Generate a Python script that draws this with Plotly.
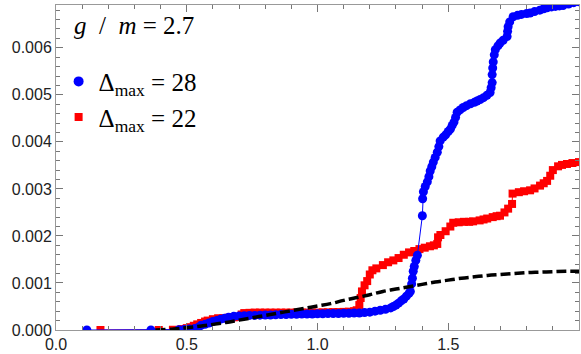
import plotly.graph_objects as go

# Delta_max = 28 (blue circles)
blue_x = [0.118, 0.363, 0.47, 0.49, 0.51, 0.53, 0.545, 0.555, 0.57, 0.585, 0.60, 0.615, 0.63, 0.645, 0.66,
          0.68, 0.70, 0.72, 0.74, 0.76, 0.78, 0.80, 0.82, 0.84, 0.86, 0.88, 0.90, 0.92, 0.94, 0.96, 0.98,
          1.00, 1.02, 1.04, 1.06, 1.08, 1.10, 1.12, 1.14, 1.16, 1.18, 1.20, 1.22, 1.24, 1.26, 1.28, 1.29,
          1.30, 1.31, 1.32, 1.33, 1.34, 1.35, 1.355, 1.36, 1.363, 1.366, 1.37, 1.376, 1.382, 1.401, 1.402,
          1.405, 1.412, 1.42, 1.426, 1.431, 1.437, 1.443, 1.45, 1.458, 1.464, 1.469, 1.481, 1.49, 1.50,
          1.508, 1.515, 1.522, 1.528, 1.534, 1.545, 1.557, 1.57, 1.585, 1.60, 1.61, 1.622, 1.635, 1.648,
          1.66, 1.664, 1.668, 1.668, 1.670, 1.672, 1.676, 1.68, 1.69, 1.698, 1.71, 1.725, 1.727, 1.729,
          1.735, 1.748, 1.765, 1.78, 1.80, 1.813, 1.83, 1.85, 1.865, 1.878, 1.895, 1.91, 1.925, 1.939,
          1.96, 1.98, 2.00]
blue_y = [0, 0, 0.005, 0.01, 0.02, 0.03, 0.06, 0.10, 0.12, 0.15, 0.18, 0.20, 0.23, 0.25, 0.27,
          0.29, 0.30, 0.305, 0.31, 0.31, 0.315, 0.32, 0.32, 0.325, 0.33, 0.33, 0.335, 0.335, 0.34, 0.34, 0.34,
          0.345, 0.345, 0.35, 0.35, 0.35, 0.355, 0.355, 0.36, 0.36, 0.37, 0.38, 0.40, 0.42, 0.44, 0.47, 0.50,
          0.53, 0.57, 0.62, 0.66, 0.72, 0.78, 0.82, 0.98, 1.10, 1.25, 1.35, 1.48, 1.59, 2.43, 2.79,
          2.94, 3.05, 3.15, 3.26, 3.38, 3.47, 3.57, 3.67, 3.78, 3.90, 4.02, 4.10, 4.15, 4.22,
          4.27, 4.35, 4.42, 4.52, 4.63, 4.68, 4.73, 4.77, 4.81, 4.84, 4.87, 4.90, 4.94, 4.99,
          5.05, 5.15, 5.26, 5.43, 5.57, 5.70, 5.85, 5.96, 6.04, 6.10, 6.16, 6.24, 6.35, 6.45,
          6.55, 6.66, 6.69, 6.71, 6.73, 6.74, 6.77, 6.80, 6.83, 6.85, 6.87, 6.88, 6.89, 6.90,
          6.93, 6.96, 6.98]

# Delta_max = 22 (red squares)
red_x = [0.17, 0.393, 0.447, 0.48, 0.50, 0.515, 0.527, 0.54, 0.555, 0.57, 0.58, 0.60, 0.62, 0.64, 0.66,
         0.68, 0.70, 0.71, 0.72, 0.74, 0.76, 0.78, 0.80, 0.82, 0.84, 0.86, 0.88, 0.90, 0.92, 0.94, 0.96,
         0.98, 1.00, 1.02, 1.04, 1.06, 1.08, 1.10, 1.12, 1.14, 1.15, 1.16, 1.165, 1.17, 1.18, 1.19, 1.20,
         1.21, 1.225, 1.25, 1.27, 1.29, 1.31, 1.33, 1.35, 1.37, 1.39, 1.41, 1.43, 1.445, 1.458, 1.461,
         1.47, 1.49, 1.508, 1.519, 1.54, 1.56, 1.58, 1.595, 1.62, 1.635, 1.649, 1.67, 1.685, 1.698, 1.715,
         1.729, 1.744, 1.746, 1.77, 1.79, 1.813, 1.83, 1.851, 1.865, 1.878, 1.89, 1.90, 1.92, 1.935,
         1.954, 1.975, 2.00]
red_y = [0, 0, 0.005, 0.02, 0.04, 0.06, 0.09, 0.12, 0.15, 0.18, 0.20, 0.23, 0.25, 0.25, 0.26,
         0.27, 0.28, 0.33, 0.36, 0.365, 0.37, 0.37, 0.37, 0.37, 0.37, 0.37, 0.37, 0.37, 0.37, 0.37, 0.37,
         0.37, 0.37, 0.375, 0.375, 0.38, 0.38, 0.385, 0.39, 0.40, 0.42, 0.53, 0.68, 0.82, 0.95, 1.04, 1.18,
         1.27, 1.31, 1.38, 1.44, 1.48, 1.53, 1.60, 1.65, 1.68, 1.72, 1.75, 1.78, 1.80, 1.83, 1.97,
         2.02, 2.10, 2.20, 2.28, 2.29, 2.30, 2.30, 2.31, 2.33, 2.35, 2.37, 2.40, 2.42, 2.43, 2.50,
         2.58, 2.68, 2.90, 2.93, 2.95, 2.97, 3.01, 3.07, 3.12, 3.17, 3.28, 3.40, 3.48, 3.51,
         3.53, 3.55, 3.57]

# reference curve (black dashed)
ref_x = [0.38, 0.45, 0.50, 0.55, 0.60, 0.65, 0.70, 0.75, 0.80, 0.85, 0.90, 0.95, 1.00, 1.05, 1.10,
         1.15, 1.20, 1.25, 1.30, 1.35, 1.40, 1.45, 1.50, 1.55, 1.60, 1.65, 1.70, 1.75, 1.80, 1.85,
         1.90, 1.95, 2.00]
ref_y = [0, 0.02, 0.05, 0.08, 0.12, 0.16, 0.21, 0.26, 0.31, 0.36, 0.41, 0.46, 0.51, 0.56, 0.63,
         0.69, 0.75, 0.82, 0.87, 0.92, 0.97, 1.02, 1.06, 1.10, 1.13, 1.16, 1.18, 1.20, 1.22, 1.23,
         1.24, 1.25, 1.25]

scale = 1e-3
label_blue = "Δ<sub>max</sub> = 28"
label_red = "Δ<sub>max</sub> = 22"
title_text = "<i>g</i>&nbsp;&nbsp;/&nbsp;&nbsp;<i>m</i>&nbsp;=&nbsp;2.7"

x_ticks = [0.0, 0.5, 1.0, 1.5]
y_ticks = [0.000, 0.001, 0.002, 0.003, 0.004, 0.005, 0.006]

serif = "Liberation Serif, DejaVu Serif, serif"

fig = go.Figure()
fig.add_trace(go.Scatter(x=red_x, y=[v * scale for v in red_y], mode="lines+markers",
                         line=dict(color="#ff0000", width=1),
                         marker=dict(symbol="square", size=8, color="#ff0000"),
                         showlegend=False))
fig.add_trace(go.Scatter(x=blue_x, y=[v * scale for v in blue_y], mode="lines+markers",
                         line=dict(color="#0000ff", width=1),
                         marker=dict(symbol="circle", size=9, color="#0000ff"),
                         showlegend=False))
fig.add_trace(go.Scatter(x=ref_x, y=[v * scale for v in ref_y], mode="lines",
                         line=dict(color="black", width=3.5, dash="10px,4px", shape="spline"),
                         showlegend=False))
# legend-only entries
fig.add_trace(go.Scatter(x=[None], y=[None], mode="markers", name=label_blue,
                         marker=dict(symbol="circle", size=10, color="#0000ff")))
fig.add_trace(go.Scatter(x=[None], y=[None], mode="markers", name=label_red,
                         marker=dict(symbol="square", size=8, color="#ff0000")))

axis_common = dict(showline=True, linecolor="#999999", linewidth=1, mirror="ticks",
                   ticks="inside", tickcolor="#777777", ticklen=7, tickwidth=1,
                   showgrid=False, zeroline=False,
                   tickfont=dict(family="Liberation Sans, Arial", size=16, color="#222222"))

fig.update_xaxes(range=[0, 2.0], tickvals=x_ticks, ticktext=[f"{v:.1f}" for v in x_ticks],
                 minor=dict(dtick=0.1, tick0=0, ticks="inside", ticklen=4, tickcolor="#777777"),
                 **axis_common)
fig.update_yaxes(range=[0, 0.00691], tickvals=y_ticks, ticktext=[f"{v:.3f}" for v in y_ticks],
                 minor=dict(dtick=0.0002, tick0=0, ticks="inside", ticklen=4, tickcolor="#777777"),
                 **axis_common)

fig.add_annotation(x=0.03, y=0.985, xref="paper", yref="paper", xanchor="left", yanchor="top",
                   text=title_text, showarrow=False,
                   font=dict(family=serif, size=25, color="black"))

fig.update_layout(
    width=581, height=354,
    margin=dict(l=56, r=1, t=5, b=22),
    plot_bgcolor="white", paper_bgcolor="white",
    legend=dict(x=0.005, y=0.835, xanchor="left", yanchor="top",
                font=dict(family=serif, size=25, color="black"),
                bgcolor="rgba(0,0,0,0)", itemwidth=30, tracegroupgap=4),
)

fig.write_html("out.html")
